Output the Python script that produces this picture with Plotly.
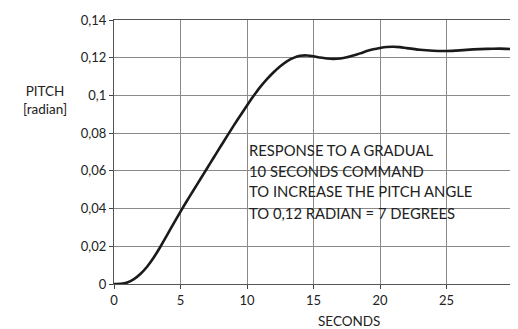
import plotly.graph_objects as go

time_s = [0, 0.5, 1, 1.5, 2, 2.5, 3, 3.5, 4, 4.5, 5, 5.5, 6, 6.5, 7, 7.5, 8, 8.5, 9, 9.5,
          10, 10.5, 11, 11.5, 12, 12.5, 13, 13.5, 14, 14.5, 15, 15.5, 16, 16.5, 17, 17.5,
          18, 18.5, 19, 19.5, 20, 20.5, 21, 21.5, 22, 23, 24, 25, 26, 27, 28, 29, 30]
pitch_rad = [0, 0.0001, 0.0008, 0.0026, 0.0054, 0.0093, 0.0142, 0.0199, 0.0261, 0.0323,
             0.0384, 0.0443, 0.0500, 0.0557, 0.0614, 0.0671, 0.0728, 0.0784, 0.0840, 0.0894,
             0.0947, 0.0998, 0.1045, 0.1086, 0.1123, 0.1155, 0.1181, 0.1199, 0.1210, 0.1212,
             0.1208, 0.1201, 0.1196, 0.1194, 0.1196, 0.1202, 0.1212, 0.1223, 0.1235, 0.1245,
             0.1252, 0.1257, 0.1258, 0.1256, 0.1251, 0.1242, 0.1237, 0.1236, 0.1239, 0.1244,
             0.1247, 0.1248, 0.1246]

x_ticks = [0, 5, 10, 15, 20, 25, 30]
y_ticks = [0, 0.02, 0.04, 0.06, 0.08, 0.1, 0.12, 0.14]
y_tick_labels = ["0", "0,02", "0,04", "0,06", "0,08", "0,1", "0,12", "0,14"]
note_lines = ["RESPONSE TO A GRADUAL", "10 SECONDS COMMAND",
              "TO INCREASE THE PITCH ANGLE", "TO 0,12 RADIAN = 7 DEGREES"]

FONT = "Lato"
OFF = 8  # default page body margin
L, T, PW, PH = 114 - OFF, 18 - OFF, 400, 266
W, H = 518 - OFF, 329 - OFF

def px(xp):
    return (xp - 114) / PW

def py(yp):
    return (284 - yp) / PH

fig = go.Figure()
fig.add_trace(go.Scatter(x=time_s, y=pitch_rad, mode="lines",
                         line=dict(color="#1a1a1a", width=2.6, shape="spline", smoothing=0.4),
                         hoverinfo="skip", showlegend=False))

axis_common = dict(showgrid=True, gridcolor="#8a8a8a", gridwidth=1,
                   showline=True, linecolor="#555", linewidth=1.2, mirror=True,
                   ticks="outside", ticklen=4, tickcolor="#444",
                   zeroline=False, tickfont=dict(size=13, color="#222"))

fig.update_layout(
    width=W, height=H,
    margin=dict(l=L, r=W - L - PW, t=T, b=H - T - PH),
    paper_bgcolor="white", plot_bgcolor="white",
    font=dict(family=FONT, size=13, color="#222"),
    xaxis=dict(range=[0, 30], tickvals=x_ticks, ticktext=[str(v) for v in x_ticks],
               **axis_common),
    yaxis=dict(range=[0, 0.14], tickvals=y_ticks, ticktext=y_tick_labels,
               **axis_common),
)

fig.add_annotation(text="SECONDS", xref="paper", yref="paper",
                   x=px(350), y=py(321),
                   xanchor="center", yanchor="middle", showarrow=False,
                   font=dict(size=13.5, color="#222"))
fig.add_annotation(text="PITCH<br>[radian]", xref="paper", yref="paper",
                   x=px(45), y=py(99),
                   xanchor="center", yanchor="middle", showarrow=False, align="center",
                   font=dict(size=13.5, color="#222"))
line_y = [149, 170, 190, 212]
for txt, yp in zip(note_lines, line_y):
    fig.add_annotation(text=txt, xref="paper", yref="paper",
                       x=px(247), y=py(yp),
                       xanchor="left", yanchor="middle", showarrow=False,
                       font=dict(size=14.8, color="#222"))

fig.write_html("out.html")
